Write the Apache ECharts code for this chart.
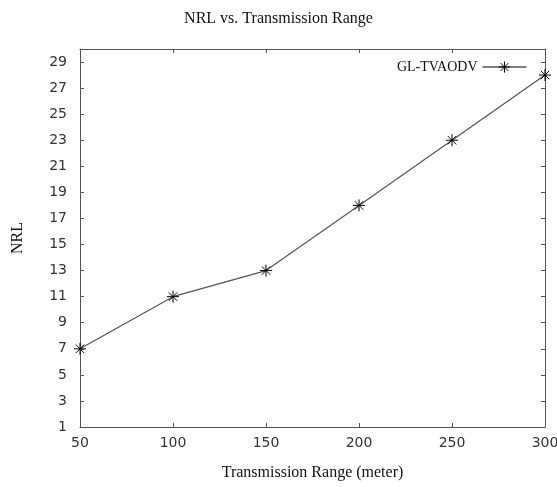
<!DOCTYPE html>
<html>
<head>
<meta charset="utf-8">
<script src="https://cdn.jsdelivr.net/npm/echarts@6/dist/echarts.min.js"></script>
<style>html,body{margin:0;padding:0;background:#fff;}#c{width:557px;height:487px;}</style>
</head>
<body>
<div id="c"></div>
<script>
const ranges = [50, 100, 150, 200, 250, 300];
const nrl = [7, 11, 13, 18, 23, 28];
const xTicks = [50, 100, 150, 200, 250, 300];
const yTicks = [1, 3, 5, 7, 9, 11, 13, 15, 17, 19, 21, 23, 25, 27, 29];
const seriesName = 'GL-TVAODV';

const star = 'path://M0,-10L0,10M-10,0L10,0M-7,-7L7,7M-7,7L7,-7';
const axisCol = '#555';
const serif = '"Liberation Serif", "Times New Roman", serif';
const sans = '"DejaVu Sans", sans-serif';

const chart = echarts.init(document.getElementById('c'));
function xAx(pos, show) {
  return {
    type: 'value', position: pos, min: 50, max: 300,
    axisLine: {show: true, lineStyle: {color: axisCol, width: 1}},
    axisTick: {show: true, inside: true, length: 4, lineStyle: {color: axisCol}, customValues: xTicks},
    axisLabel: {show: show, customValues: xTicks, color: '#333', fontFamily: sans, fontSize: 14, margin: 9},
    splitLine: {show: false}
  };
}
function yAx(pos, show) {
  return {
    type: 'value', position: pos, min: 1, max: 30,
    axisLine: {show: true, lineStyle: {color: axisCol, width: 1}},
    axisTick: {show: true, inside: true, length: 4, lineStyle: {color: axisCol}, customValues: yTicks},
    axisLabel: {show: show, customValues: yTicks, color: '#333', fontFamily: sans, fontSize: 14, margin: 13},
    splitLine: {show: false}
  };
}
const xa = xAx('bottom', true);
xa.name = 'Transmission Range (meter)';
xa.nameLocation = 'middle';
xa.nameGap = 38;
xa.nameTextStyle = {fontFamily: serif, fontSize: 16, color: '#111'};
const ya = yAx('left', true);
ya.name = 'NRL';
ya.nameLocation = 'middle';
ya.nameGap = 54;
ya.nameTextStyle = {fontFamily: serif, fontSize: 16, color: '#111'};

chart.setOption({
  animation: false,
  backgroundColor: '#fff',
  title: {
    text: 'NRL vs. Transmission Range', left: 'center', top: 6,
    textStyle: {fontFamily: serif, fontSize: 16, fontWeight: 'normal', color: '#111'}
  },
  legend: {
    right: 25, top: 55, align: 'right', itemWidth: 44, itemHeight: 14, itemGap: 10,
    textStyle: {fontFamily: serif, fontSize: 14, color: '#111'},
    itemStyle: {color: 'transparent', borderColor: '#000', borderWidth: 1},
    lineStyle: {color: '#000', width: 1},
    data: [seriesName]
  },
  grid: {left: 80, right: 12, top: 49, bottom: 60, outerBoundsMode: 'none', containLabel: false},
  xAxis: [xa, xAx('top', false)],
  yAxis: [ya, yAx('right', false)],
  series: [{
    name: seriesName, type: 'line',
    data: ranges.map((r, i) => [r, nrl[i]]),
    symbol: star, symbolSize: 12,
    lineStyle: {color: '#555', width: 1.2},
    itemStyle: {color: 'transparent', borderColor: '#000', borderWidth: 1},
    clip: false
  }]
});
</script>
</body>
</html>
